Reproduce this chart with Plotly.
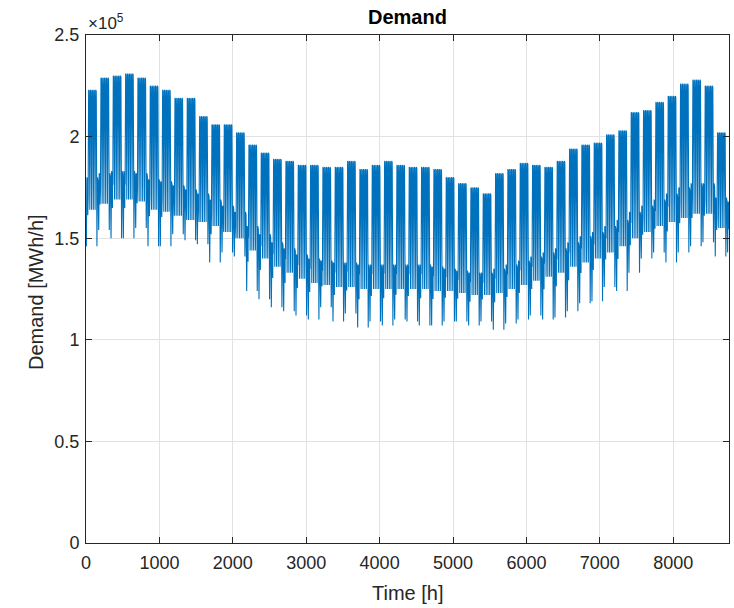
import plotly.graph_objects as go

# Weekly envelope values (units of 1e5 MWh/h)
# weekday daily peaks, weeks 0..51
weekday_peak = [2.23, 2.29, 2.30, 2.31, 2.29, 2.25, 2.23, 2.19, 2.19, 2.10,
                2.06, 2.06, 2.02, 1.96, 1.92, 1.89, 1.88, 1.86, 1.86, 1.85,
                1.85, 1.88, 1.84, 1.86, 1.88, 1.86, 1.85, 1.85, 1.84, 1.80,
                1.77, 1.75, 1.72, 1.82, 1.84, 1.87, 1.86, 1.85, 1.88, 1.94,
                1.96, 1.97, 2.01, 2.03, 2.12, 2.13, 2.17, 2.20, 2.26, 2.28,
                2.25, 2.02]
# weekday night minima, weeks 0..51
weekday_low = [1.64, 1.67, 1.69, 1.69, 1.68, 1.64, 1.63, 1.61, 1.59, 1.58,
               1.56, 1.53, 1.50, 1.44, 1.40, 1.36, 1.33, 1.30, 1.28, 1.27,
               1.26, 1.26, 1.25, 1.25, 1.25, 1.25, 1.25, 1.25, 1.24, 1.24,
               1.23, 1.22, 1.22, 1.23, 1.25, 1.27, 1.29, 1.31, 1.33, 1.36,
               1.38, 1.40, 1.43, 1.46, 1.50, 1.53, 1.56, 1.58, 1.60, 1.62,
               1.62, 1.55]
# weekend daytime maxima, weeks 0..52
weekend_high = [1.80, 1.82, 1.83, 1.83, 1.82, 1.79, 1.78, 1.76, 1.74, 1.72,
                1.69, 1.66, 1.63, 1.56, 1.52, 1.48, 1.45, 1.42, 1.40, 1.39,
                1.38, 1.38, 1.37, 1.37, 1.37, 1.37, 1.37, 1.37, 1.36, 1.35,
                1.34, 1.33, 1.33, 1.35, 1.37, 1.39, 1.41, 1.43, 1.45, 1.48,
                1.51, 1.53, 1.56, 1.59, 1.63, 1.66, 1.69, 1.72, 1.75, 1.77,
                1.77, 1.70, 1.68]
# weekend night minima (deep troughs), weeks 0..52
weekend_low = [1.46, 1.54, 1.50, 1.50, 1.55, 1.46, 1.46, 1.52, 1.49, 1.47,
               1.38, 1.43, 1.41, 1.24, 1.20, 1.16, 1.14, 1.12, 1.10, 1.16,
               1.09, 1.13, 1.06, 1.09, 1.07, 1.10, 1.09, 1.07, 1.07, 1.09,
               1.09, 1.07, 1.09, 1.05, 1.08, 1.10, 1.12, 1.10, 1.11, 1.14,
               1.18, 1.19, 1.26, 1.24, 1.33, 1.40, 1.43, 1.38, 1.43, 1.46,
               1.48, 1.41, 1.43]
# daily load shapes (0 = daily minimum, 1 = daily maximum), hours 0..23
weekday_shape = [0.15, 0.07, 0.02, 0.00, 0.02, 0.12, 0.40, 0.70, 0.88, 0.95,
                 0.98, 1.00, 0.96, 0.93, 0.90, 0.88, 0.90, 0.96, 0.99, 0.95,
                 0.85, 0.70, 0.50, 0.30]
weekend_shape = [0.35, 0.20, 0.08, 0.00, 0.00, 0.05, 0.15, 0.35, 0.60, 0.80,
                 0.92, 1.00, 0.97, 0.90, 0.85, 0.82, 0.85, 0.92, 0.98, 0.95,
                 0.85, 0.72, 0.58, 0.45]

x_ticks = [0, 1000, 2000, 3000, 4000, 5000, 6000, 7000, 8000]
y_ticks = [0, 0.5, 1, 1.5, 2, 2.5]
y_tick_text = ["0", "0.5", "1", "1.5", "2", "2.5"]
SCALE = 1e5

hours, demand = [], []
for d in range(365):
    k, dow = divmod(d, 7)
    if 1 <= dow <= 5:
        lo, hi, shape = weekday_low[k], weekday_peak[k], weekday_shape
    else:
        lo, hi, shape = weekend_low[k], weekend_high[k], weekend_shape
    for h in range(24):
        hours.append(d * 24 + h + 1)
        demand.append((lo + (hi - lo) * shape[h]) * SCALE)

FONT = "Liberation Sans, Arial, Helvetica, sans-serif"
TXT = "#262626"

fig = go.Figure()
fig.add_trace(go.Scatter(x=hours, y=demand, mode="lines",
                         line=dict(color="#0072BD", width=1.1),
                         showlegend=False, hoverinfo="skip"))

axis_common = dict(showline=True, linecolor=TXT, linewidth=1,
                   mirror="ticks", ticks="inside", ticklen=6, tickcolor=TXT,
                   showgrid=True, gridcolor="#e2e2e2", gridwidth=1, zeroline=False,
                   automargin=False,
                   tickfont=dict(family=FONT, size=18, color=TXT))

fig.update_xaxes(range=[0, 8760], tickvals=x_ticks,
                 ticktext=[str(v) for v in x_ticks], ticklabelstandoff=3,
                 **axis_common)
fig.update_yaxes(range=[0, 2.5 * SCALE], tickvals=[v * SCALE for v in y_ticks],
                 ticktext=y_tick_text, ticklabelstandoff=2,
                 **axis_common)

fig.update_layout(
    width=734, height=608,
    margin=dict(l=86, r=5, t=35, b=65),
    plot_bgcolor="white", paper_bgcolor="white",
    annotations=[
        dict(text="<b>Demand</b>", xref="paper", yref="paper", x=0.500, y=1.035,
             xanchor="center", yanchor="middle", showarrow=False,
             font=dict(family=FONT, size=20, color="#000000")),
        dict(text="Time [h]", xref="paper", yref="paper", x=0.5008, y=-0.0984,
             xanchor="center", yanchor="middle", showarrow=False,
             font=dict(family=FONT, size=20, color=TXT)),
        dict(text="Demand [MWh/h]", xref="paper", yref="paper", x=-0.0778, y=0.494,
             xanchor="center", yanchor="middle", showarrow=False, textangle=-90,
             font=dict(family=FONT, size=20, color=TXT)),
        dict(text="×10<sup>5</sup>", xref="paper", yref="paper",
             x=0.0, y=1.0, xanchor="left", yanchor="bottom", showarrow=False,
             font=dict(family=FONT, size=17, color=TXT)),
    ],
)

fig.write_html("out.html", config={"displayModeBar": False},
               post_script="document.body.style.margin='0';")
